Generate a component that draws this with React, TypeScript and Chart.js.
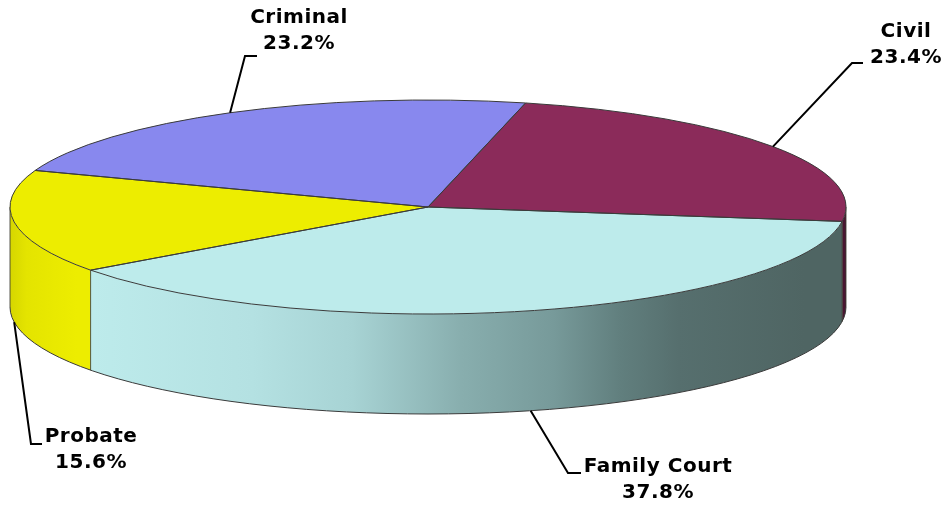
import { useEffect, useRef } from "react";
import { Chart, registerables } from "chart.js";

Chart.register(...registerables);

// ---- data ----
const categories = ["Civil", "Family Court", "Probate", "Criminal"];
const shares = [23.4, 37.8, 15.6, 23.2];
const valueLabels = ["23.4%", "37.8%", "15.6%", "23.2%"];

// ---- styles ----
const topColors = ["#8b2b5a", "#bdebeb", "#eded00", "#8888ee"];
const sideStops: [number, string][][] = [
  [[0, "#4a1632"], [1, "#4a1632"]],
  [
    [0, "#c0eeee"], [0.1, "#bdebeb"], [0.29, "#b4e1e2"], [0.41, "#a7d3d4"],
    [0.54, "#88aeae"], [0.65, "#779a9a"], [0.73, "#617f7e"], [0.8, "#566f6e"],
    [0.95, "#4f6563"], [1, "#4f6563"],
  ],
  [[0, "#d6d600"], [0.02, "#e4e400"], [0.08, "#eded00"], [1, "#eded00"]],
  [[0, "#8888ee"], [1, "#8888ee"]],
];

// label layout: text centre x, first line y, leader elbow (x,y), leader tail x
const labelLayout = [
  { tx: 906, ty: 32, ex: 852, ey: 63, hx: 863 },
  { tx: 658, ty: 467, ex: 568, ey: 473, hx: 581 },
  { tx: 91, ty: 437, ex: 31, ey: 444, hx: 42 },
  { tx: 299, ty: 18, ex: 245, ey: 56, hx: 257 },
];

const TILT = 107 / 418;
const DEPTH = 100;
const START_ROTATION = 13.5;
const LINE_GAP = 25.5;

const pie3d = {
  id: "pie3d",
  beforeDatasetsDraw(chart: any) {
    const ctx: CanvasRenderingContext2D = chart.ctx;
    const arcs = chart.getDatasetMeta(0).data as any[];
    if (!arcs.length) return;
    const cx = arcs[0].x;
    const cy = arcs[0].y;
    const r = arcs[0].outerRadius;
    const a = chart.chartArea.width / 2;
    const b = a * TILT;
    chart.$pie3d = { cx, cy, r, a, b };

    const TWO_PI = Math.PI * 2;
    const segs: { i: number; lo: number; hi: number }[] = [];
    arcs.forEach((arc, i) => {
      const s = arc.startAngle;
      const e = arc.endAngle;
      for (let k = -2; k <= 2; k++) {
        const lo = Math.max(s, TWO_PI * k);
        const hi = Math.min(e, TWO_PI * k + Math.PI);
        if (hi > lo) segs.push({ i, lo, hi });
      }
    });

    ctx.save();
    for (const sg of segs) {
      const grad = ctx.createLinearGradient(cx - a, 0, cx + a, 0);
      sideStops[sg.i].forEach(([o, c]) => grad.addColorStop(o, c));
      ctx.beginPath();
      ctx.ellipse(cx, cy, a, b, 0, sg.lo, sg.hi, false);
      ctx.ellipse(cx, cy + DEPTH, a, b, 0, sg.hi, sg.lo, true);
      ctx.closePath();
      ctx.fillStyle = grad;
      ctx.fill();
    }
    // side outlines
    ctx.strokeStyle = "#3a3a3a";
    ctx.lineWidth = 1;
    ctx.beginPath();
    ctx.ellipse(cx, cy + DEPTH, a, b, 0, 0, Math.PI, false);
    ctx.stroke();
    const edges = [0, Math.PI];
    arcs.forEach((arc) => {
      const t = ((arc.startAngle % TWO_PI) + TWO_PI) % TWO_PI;
      if (t > 0 && t < Math.PI) edges.push(t);
    });
    ctx.strokeStyle = "rgba(60,60,50,0.85)";
    for (const t of edges) {
      const x = cx + a * Math.cos(t);
      const y = cy + b * Math.sin(t);
      ctx.beginPath();
      ctx.moveTo(x, y);
      ctx.lineTo(x, y + DEPTH);
      ctx.stroke();
    }
    ctx.restore();

    // top faces: let the library draw its arcs squashed into an ellipse
    ctx.save();
    ctx.translate(cx, cy);
    ctx.scale(a / r, b / r);
    ctx.translate(-cx, -cy);
  },
  afterDatasetsDraw(chart: any) {
    const ctx: CanvasRenderingContext2D = chart.ctx;
    const g = chart.$pie3d;
    if (!g) return;
    ctx.restore();
    const { cx, cy, a, b } = g;
    const arcs = chart.getDatasetMeta(0).data as any[];

    ctx.save();
    ctx.strokeStyle = "#3a3a3a";
    ctx.lineWidth = 1;
    arcs.forEach((arc) => {
      ctx.beginPath();
      ctx.moveTo(cx, cy);
      ctx.ellipse(cx, cy, a, b, 0, arc.startAngle, arc.endAngle, false);
      ctx.closePath();
      ctx.stroke();
    });

    // leader lines and labels
    ctx.strokeStyle = "#000";
    ctx.lineWidth = 2;
    ctx.fillStyle = "#000";
    ctx.font = "bold 20px 'DejaVu Sans'";
    (ctx as any).letterSpacing = "0.5px";
    ctx.textAlign = "center";
    ctx.textBaseline = "middle";
    arcs.forEach((arc, i) => {
      const m = (arc.startAngle + arc.endAngle) / 2;
      const s = Math.sin(m);
      const px = cx + a * Math.cos(m);
      const py = cy + b * s + (s > 0 ? DEPTH : 0);
      const L = labelLayout[i];
      ctx.beginPath();
      ctx.moveTo(px, py);
      ctx.lineTo(L.ex, L.ey);
      ctx.lineTo(L.hx, L.ey);
      ctx.stroke();
      ctx.fillText(categories[i], L.tx, L.ty);
      ctx.fillText(valueLabels[i], L.tx, L.ty + LINE_GAP);
    });
    ctx.restore();
  },
};

export default function App() {
  const ref = useRef<HTMLCanvasElement>(null);
  useEffect(() => {
    if (!ref.current) return;
    const chart = new Chart(ref.current, {
      type: "pie",
      data: {
        labels: categories,
        datasets: [
          {
            data: shares,
            backgroundColor: topColors,
            borderWidth: 0,
            clip: false as any,
          },
        ],
      },
      options: {
        responsive: false,
        animation: false,
        devicePixelRatio: 1,
        rotation: START_ROTATION,
        events: [],
        layout: { padding: { left: 10, right: 104, top: 0, bottom: 92 } },
        plugins: { legend: { display: false }, tooltip: { enabled: false } },
      },
      plugins: [pie3d],
    });
    return () => chart.destroy();
  }, []);
  return (
    <div style={{ position: "absolute", left: 0, top: 0, width: 950, height: 506, background: "#fff" }}>
      <canvas ref={ref} width={950} height={506} style={{ display: "block" }} />
    </div>
  );
}
